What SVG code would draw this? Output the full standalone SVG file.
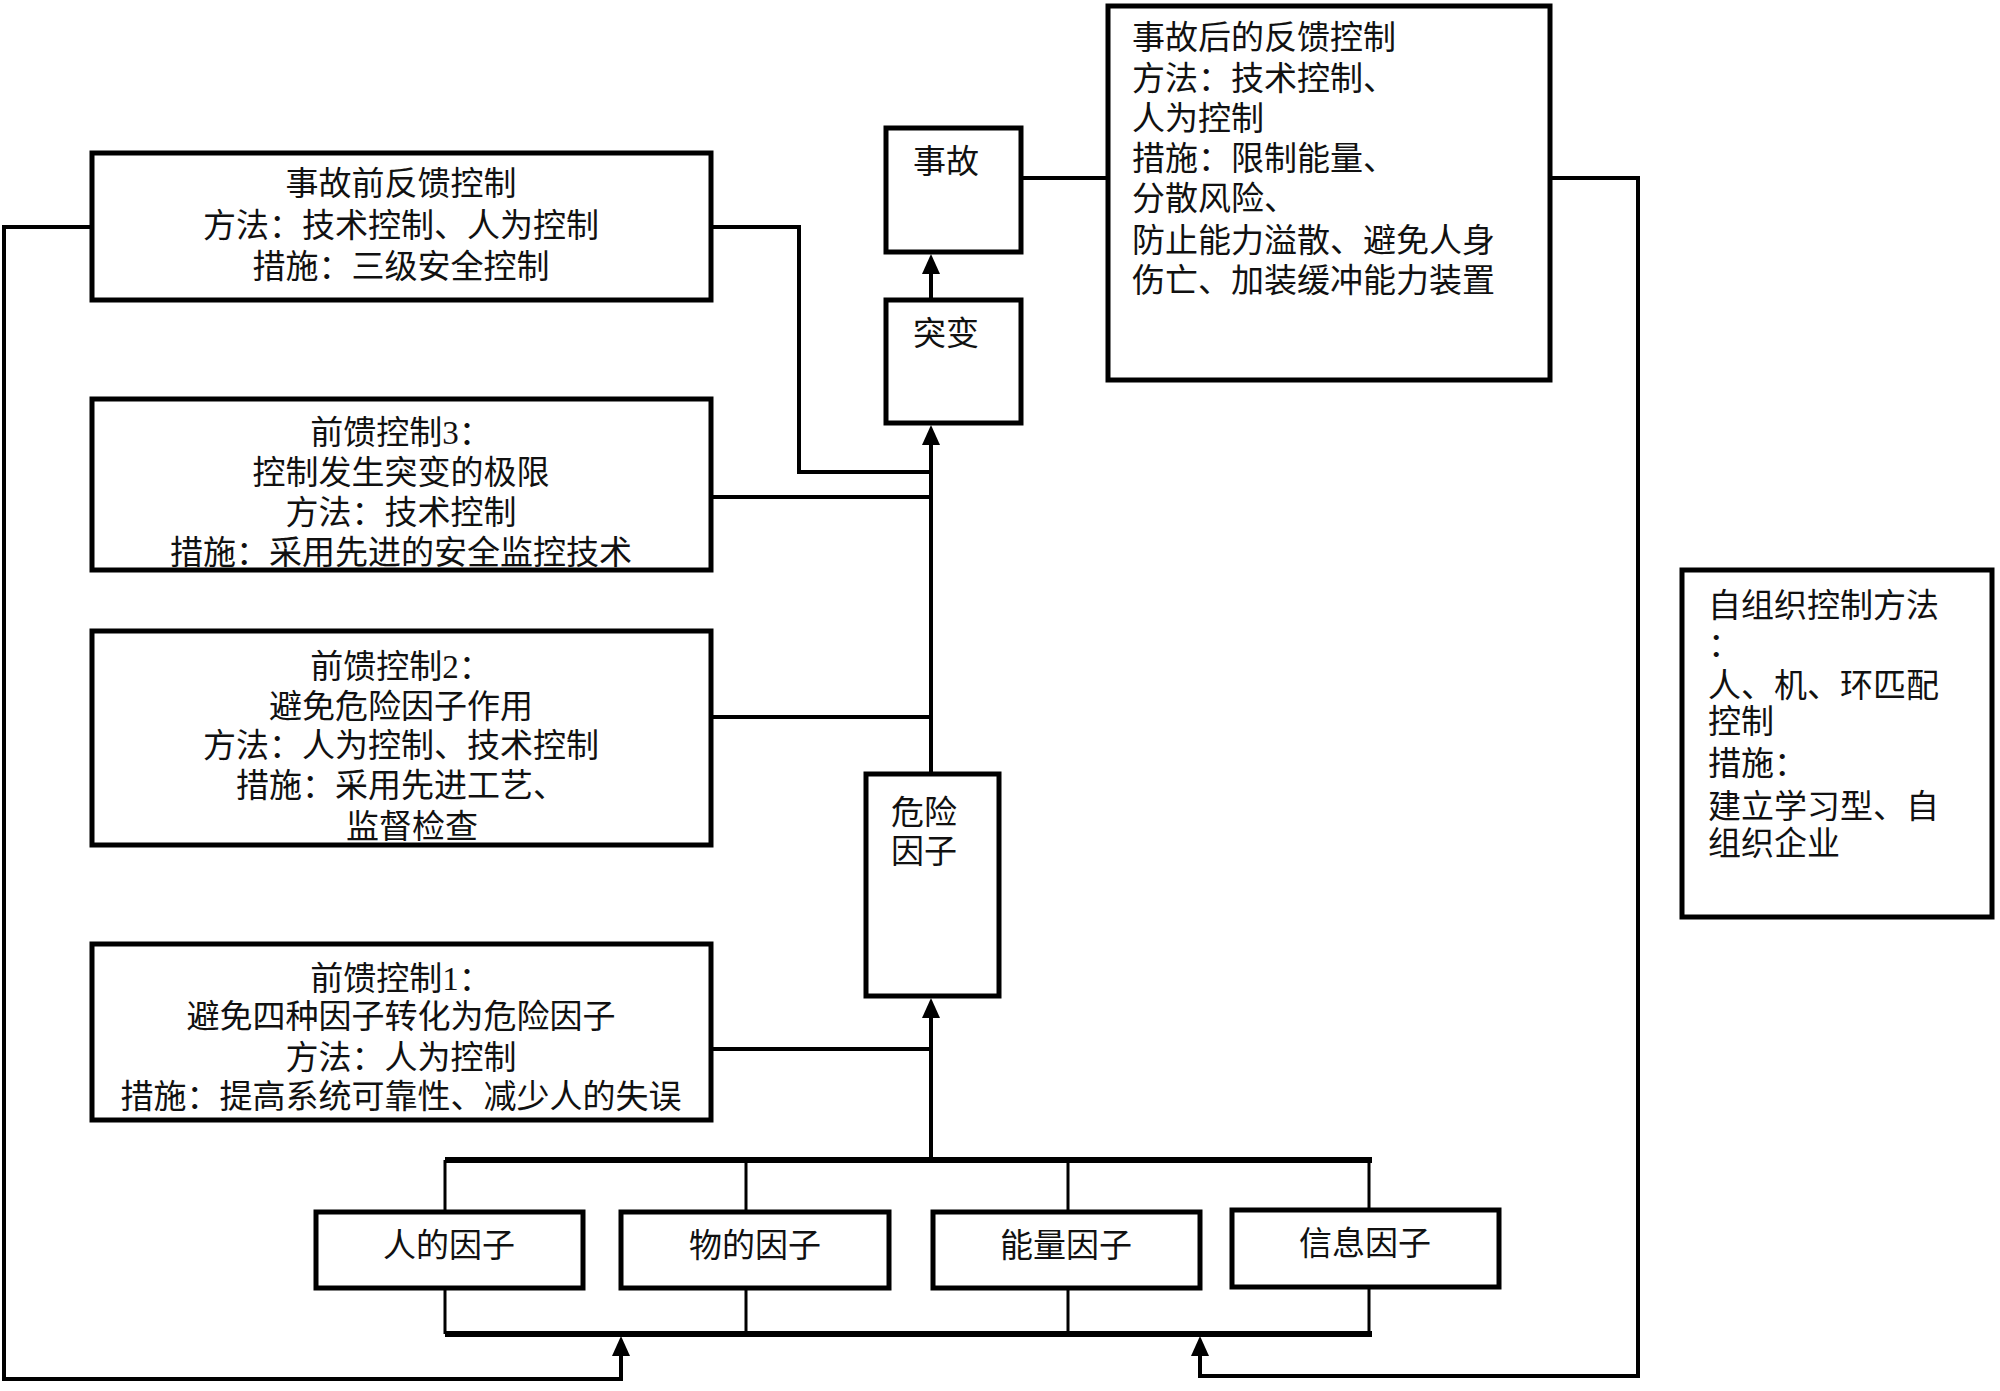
<svg xmlns="http://www.w3.org/2000/svg" width="2000" height="1391" viewBox="0 0 2000 1391">
<style>
.box{fill:#fff;stroke:#000;stroke-width:5}
.ln{fill:none;stroke:#000;stroke-width:4}
.thin{fill:none;stroke:#000;stroke-width:3}
.bus{fill:none;stroke:#000;stroke-width:6}
text{font-family:"Liberation Serif","Noto Sans CJK SC",serif;font-size:33px;fill:#111}
.c{text-anchor:middle}
</style>
<defs>
<marker id="ah" markerUnits="userSpaceOnUse" markerWidth="22" markerHeight="22" viewBox="0 -11 22 22" refX="0" refY="0" orient="auto">
<path d="M0,-9 L20,0 L0,9 z" fill="#000"/>
</marker>
</defs>
<rect width="2000" height="1391" fill="#fff"/>
<g id="connectors">
<path class="ln" d="M92,227 H4 V1379 H621 V1356" marker-end="url(#ah)"/>
<path class="ln" d="M1550,178 H1638 V1376 H1200 V1356" marker-end="url(#ah)"/>
<path class="ln" d="M1021,178 H1108"/>
<path class="ln" d="M711,227 H799 V472 H931"/>
<path class="ln" d="M711,497 H931"/>
<path class="ln" d="M711,717 H931"/>
<path class="ln" d="M711,1049 H931"/>
<path class="ln" d="M931,1160 V1018" marker-end="url(#ah)"/>
<path class="ln" d="M931,774 V445" marker-end="url(#ah)"/>
<path class="ln" d="M931,300 V274" marker-end="url(#ah)"/>
<path class="bus" d="M445,1160 H1372"/>
<path class="bus" d="M445,1334 H1372"/>
<path class="thin" d="M445,1160 V1211 M746,1160 V1211 M1068,1160 V1211 M1369,1160 V1209"/>
<path class="thin" d="M445,1288 V1334 M746,1288 V1334 M1068,1288 V1332 M1369,1287 V1332"/>
</g>
<g id="pre-feedback">
<rect class="box" x="92" y="153" width="619" height="147"/>
<text class="c" x="401" y="195">事故前反馈控制</text>
<text class="c" x="401" y="237">方法：技术控制、人为控制</text>
<text class="c" x="401" y="278">措施：三级安全控制</text>
</g>
<g id="ff3">
<rect class="box" x="92" y="399" width="619" height="171"/>
<text class="c" x="401" y="444">前馈控制3：</text>
<text class="c" x="401" y="484">控制发生突变的极限</text>
<text class="c" x="401" y="524">方法：技术控制</text>
<text class="c" x="401" y="564">措施：采用先进的安全监控技术</text>
</g>
<g id="ff2">
<rect class="box" x="92" y="631" width="619" height="214"/>
<text class="c" x="401" y="678">前馈控制2：</text>
<text class="c" x="401" y="718">避免危险因子作用</text>
<text class="c" x="401" y="757">方法：人为控制、技术控制</text>
<text class="c" x="401" y="797">措施：采用先进工艺、</text>
<text class="c" x="412" y="838">监督检查</text>
</g>
<g id="ff1">
<rect class="box" x="92" y="944" width="619" height="176"/>
<text class="c" x="401" y="990">前馈控制1：</text>
<text class="c" x="401" y="1028">避免四种因子转化为危险因子</text>
<text class="c" x="401" y="1069">方法：人为控制</text>
<text class="c" x="401" y="1108">措施：提高系统可靠性、减少人的失误</text>
</g>
<g id="accident">
<rect class="box" x="886" y="128" width="135" height="124"/>
<text x="913" y="173">事故</text>
</g>
<g id="mutation">
<rect class="box" x="886" y="300" width="135" height="123"/>
<text x="913" y="345">突变</text>
</g>
<g id="hazard">
<rect class="box" x="866" y="774" width="133" height="222"/>
<text x="891" y="824">危险</text>
<text x="891" y="863">因子</text>
</g>
<g id="post-feedback">
<rect class="box" x="1108" y="6" width="442" height="374"/>
<text x="1132" y="49">事故后的反馈控制</text>
<text x="1132" y="90">方法：技术控制、</text>
<text x="1132" y="130">人为控制</text>
<text x="1132" y="170">措施：限制能量、</text>
<text x="1132" y="210">分散风险、</text>
<text x="1132" y="252">防止能力溢散、避免人身</text>
<text x="1132" y="292">伤亡、加装缓冲能力装置</text>
</g>
<g id="self-org">
<rect class="box" x="1682" y="570" width="310" height="347"/>
<text x="1708" y="617">自组织控制方法</text>
<text x="1708" y="656">：</text>
<text x="1708" y="697">人、机、环匹配</text>
<text x="1708" y="733">控制</text>
<text x="1708" y="775">措施：</text>
<text x="1708" y="818">建立学习型、自</text>
<text x="1708" y="855">组织企业</text>
</g>
<g id="f-human">
<rect class="box" x="316" y="1212" width="267" height="76"/>
<text class="c" x="449" y="1257">人的因子</text>
</g>
<g id="f-object">
<rect class="box" x="621" y="1212" width="268" height="76"/>
<text class="c" x="755" y="1257">物的因子</text>
</g>
<g id="f-energy">
<rect class="box" x="933" y="1212" width="267" height="76"/>
<text class="c" x="1066" y="1257">能量因子</text>
</g>
<g id="f-info">
<rect class="box" x="1232" y="1210" width="267" height="77"/>
<text class="c" x="1365" y="1255">信息因子</text>
</g>
</svg>
